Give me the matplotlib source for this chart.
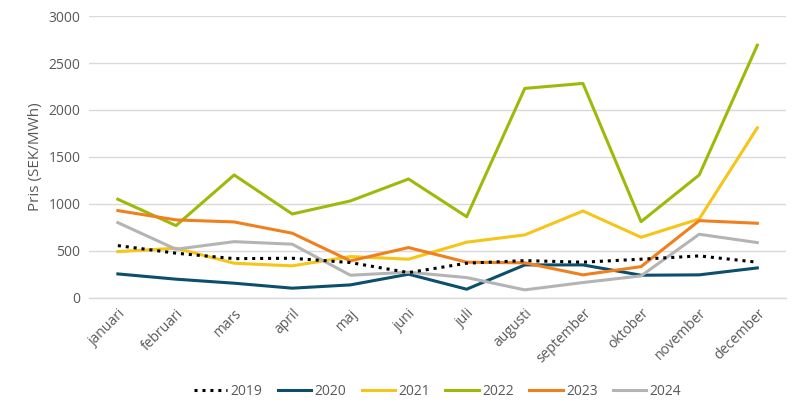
import matplotlib.pyplot as plt

months = ["januari", "februari", "mars", "april", "maj", "juni", "juli",
          "augusti", "september", "oktober", "november", "december"]

p2019 = [554, 473, 415, 419, 373, 266, 366, 394, 377, 409, 444, 377]
p2020 = [252, 196, 153, 100, 135, 249, 89, 348, 348, 238, 242, 316]
p2021 = [490, 526, 366, 338, 437, 409, 590, 668, 923, 643, 838, 1810]
p2022 = [1048, 767, 1307, 891, 1030, 1264, 862, 2230, 2283, 809, 1307, 2691]
p2023 = [927, 828, 806, 686, 391, 533, 377, 370, 242, 330, 820, 792]
p2024 = [799, 515, 596, 569, 238, 270, 213, 82, 160, 231, 675, 586]

series = [
    ("2019", p2019, "black", ":"),
    ("2020", p2020, "#0b4f6c", "-"),
    ("2021", p2021, "#f5c518", "-"),
    ("2022", p2022, "#9bbb0b", "-"),
    ("2023", p2023, "#f07f1e", "-"),
    ("2024", p2024, "#b4b4b4", "-"),
]

plt.rcParams["font.family"] = ["Open Sans", "DejaVu Sans"]
text_color = "#595959"

fig = plt.figure(figsize=(8, 4.15), dpi=100)
ax = fig.add_axes([0.111, 0.283, 0.872, 0.678])

x = range(len(months))
for label, vals, color, ls in series:
    if ls == ":":
        ax.plot(x, vals, color=color, linestyle=(0, (1, 1.6)), linewidth=2.2,
                label=label, zorder=3)
    else:
        ax.plot(x, vals, color=color, linestyle=ls, linewidth=2.2, label=label)

ax.set_xlim(-0.5, len(months) - 0.5)
ax.set_ylim(0, 3000)
ax.set_yticks(range(0, 3001, 500))
ax.set_xticks(list(x))
ax.set_xticklabels(months, rotation=45, ha="right", rotation_mode="anchor")
ax.tick_params(axis="both", length=0, labelsize=10, labelcolor=text_color, pad=6)
ax.grid(axis="y", color="#d9d9d9", linewidth=1)
ax.axhline(0, color="#d9d9d9", linewidth=1, clip_on=False, zorder=0)
ax.set_axisbelow(True)
for s in ax.spines.values():
    s.set_visible(False)
ax.set_ylabel("Pris (SEK/MWh)", fontsize=11, color=text_color)

ax.legend(loc="center", bbox_to_anchor=(0.5, -0.335), ncol=6, frameon=False,
          fontsize=10, labelcolor=text_color, handlelength=2.4,
          handletextpad=0.25, columnspacing=1.1)

fig.savefig("out.png", dpi=100)
